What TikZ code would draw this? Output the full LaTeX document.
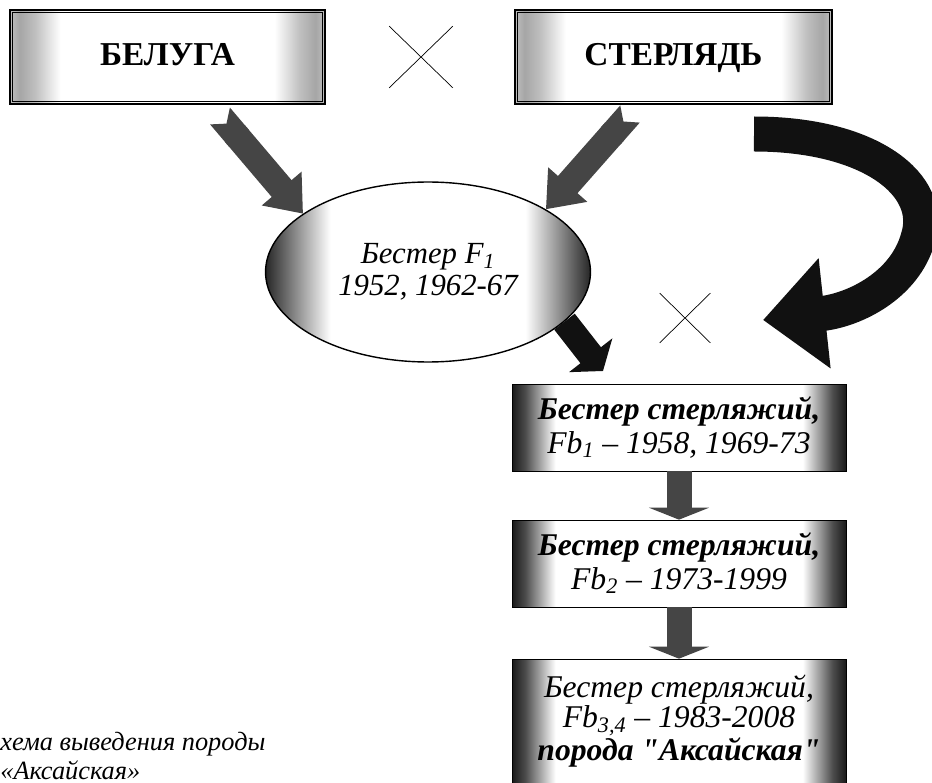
\documentclass[tikz,border=0pt]{standalone}
\usepackage{fontspec}
\setmainfont{Liberation Serif}
\newfontfamily\qfont{Liberation Serif}
\usepackage{tikz}
\usetikzlibrary{arrows.meta,positioning,shapes.geometric,shapes.misc}
\definecolor{inkx}{HTML}{111111}
\definecolor{greyx}{HTML}{454545}
% box spans 25bp..75bp of the shading
\pgfdeclarehorizontalshading{fadetop}{100bp}{color(0bp)=(black!25); color(25bp)=(black!25); color(26.5bp)=(black!35); color(29bp)=(black!25); color(33bp)=(white); color(67bp)=(white); color(71bp)=(black!25); color(73.5bp)=(black!35); color(75bp)=(black!25); color(100bp)=(black!25)}
\pgfdeclarehorizontalshading{fadebox}{100bp}{color(0bp)=(black!90); color(25bp)=(black!90); color(27bp)=(black!70); color(31.5bp)=(white); color(68.5bp)=(white); color(73bp)=(black!70); color(75bp)=(black!90); color(100bp)=(black!90)}
\pgfdeclarehorizontalshading{fadeov}{100bp}{color(0bp)=(black!85); color(25bp)=(black!85); color(35bp)=(white); color(65bp)=(white); color(75bp)=(black!85); color(100bp)=(black!85)}
\tikzset{
  par/.style={draw,line width=1.4pt,shade,shading=fadetop,minimum width=6.3cm,minimum height=1.88cm,text depth=0.1cm,font=\fontsize{19}{20}\selectfont\bfseries},
  ov/.style={draw,thick,ellipse,shade,shading=fadeov,minimum width=6.5cm,minimum height=3.6cm,inner sep=0pt,align=center,font=\fontsize{17.5}{18.5}\selectfont\itshape},
  hyb/.style={draw,thin,shade,shading=fadebox,minimum width=6.68cm,minimum height=1.74cm,inner sep=0pt,align=center,font=\fontsize{18}{19}\selectfont\itshape},
  cr/.style={cross out,draw,thin,inner sep=0pt},
  ga/.style={line width=0.52cm,greyx,{Triangle Cap[reversed,length=0.2cm]}-{Triangle[length=0.66cm,width=1.0cm]}},
  ba/.style={line width=0.52cm,inkx,-{Triangle[length=0.4cm,width=1.08cm]}},
  da/.style={line width=0.5cm,greyx,-{Triangle[length=0.24cm,width=1.2cm]}}
}
\begin{document}
\begin{tikzpicture}[x=0.02cm,y=-0.02cm]
\useasboundingbox (0,0) rectangle (932,783);
% parents
\node[par] (a) at (167.5,57) {БЕЛУГА};
\node[par,minimum width=6.34cm] (b) at (673.5,57) {СТЕРЛЯДЬ};
\foreach \n in {a,b}{\draw[thin] ([shift={(0.08cm,-0.08cm)}]\n.north west) rectangle ([shift={(-0.08cm,0.08cm)}]\n.south east);}
\node[cr,minimum width=1.26cm,minimum height=1.22cm] (x1) at (421,57) {};
% hybrids
\node[ov] (f1) at (428,272) {Бестер F\textsubscript{1}\\1952, 1962-67};
\node[cr,minimum width=1cm,minimum height=0.98cm] (x2) at (685,318) {};
\node[hyb] (c1) at (679,427.5) {\textbf{Бестер стерляжий,}\\Fb\textsubscript{1} – 1958, 1969-73};
\node[hyb] (c2) at (679,563.5) {\textbf{Бестер стерляжий,}\\Fb\textsubscript{2} – 1973-1999};
\node[hyb,minimum height=2.48cm,font=\fontsize{18}{17.4}\selectfont\itshape] (c3) at (679,721) {Бестер стерляжий,\\Fb\textsubscript{3,4} – 1983-2008\\\textbf{порода {\qfont"}Аксайская{\qfont"}}};
\node[anchor=south west,inner sep=0pt,align=left,font=\fontsize{15}{16.5}\selectfont\itshape] (cap) at (0,780) {хема выведения породы\\«Аксайская»};
% arrows
\coordinate (t1) at (220,116);
\coordinate (t2) at (630,114);
\coordinate (k) at (603,371);
\coordinate (cs) at (754,134);
\coordinate (ce) at (763,320);
\foreach \p/\q in {t1/f1.155,t2/f1.28}{\draw[ga] (\p)--(\q);}
\draw[ba] (f1.-20)--(k);
\foreach \p/\q in {c1/c2,c2/c3}{\draw[da] (\p)--(\q);}
\draw[line width=0.7cm,inkx,-{Triangle[length=1.24cm,width=2.14cm]}] (cs) .. controls (870,134) and (935,185) .. (918,238) .. controls (905,285) and (855,310) .. (ce);
\end{tikzpicture}
\end{document}
